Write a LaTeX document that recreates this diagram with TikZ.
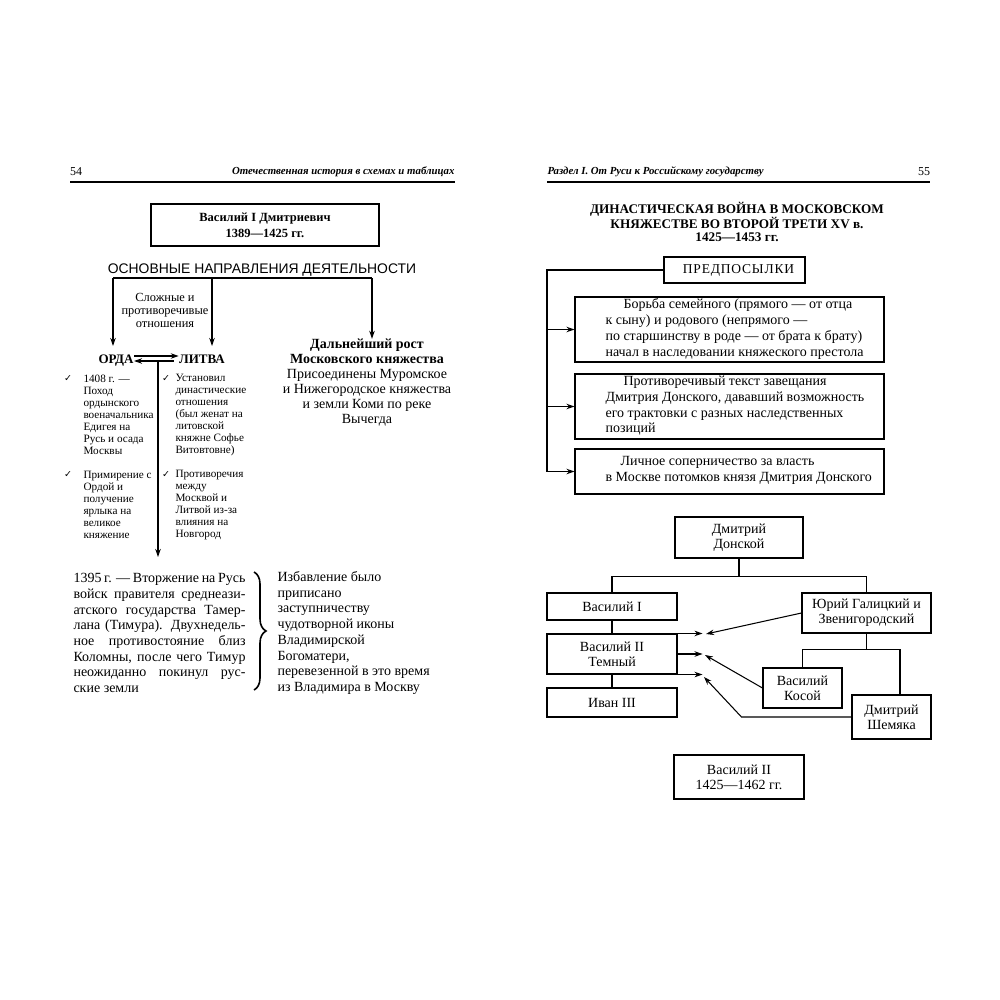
\documentclass[tikz,border=0pt]{standalone}
\usepackage{fontspec}
\setmainfont{Liberation Serif}
\setsansfont{Liberation Sans}
\newfontfamily\symfont{DejaVu Sans}
\usetikzlibrary{arrows.meta,decorations.pathreplacing}

\begin{document}
\begin{tikzpicture}[x=1pt,y=-1pt,line width=1.05pt,
    arr/.style={-{Stealth[length=8pt,width=5.5pt]}},
    box/.style={draw,inner sep=0pt,align=center},
    lbl/.style={inner sep=0pt,align=left,anchor=west},
    fhead/.style={font=\fontsize{10.8}{13}\selectfont\bfseries\itshape},
    fsmall/.style={font=\fontsize{11.2}{12}\selectfont},
    fmid/.style={font=\fontsize{12.4}{13}\selectfont},
    fbig/.style={font=\fontsize{14}{15.7}\selectfont},
    ftree/.style={font=\fontsize{14}{15}\selectfont},
    fchk/.style={inner sep=0pt,font=\symfont\fontsize{9.5}{10}\selectfont},
    side/.style={inner sep=0pt,text height=9pt,text depth=2pt,minimum height=27,font=\fontsize{13}{15}\selectfont\bfseries}]
  \fill[white] (0,0) rectangle (1000,1000);

  % page 54
  \node[inner sep=0pt,font=\fontsize{12}{13}\selectfont] (pl) at (76,172) {54};
  \node[inner sep=0pt,fhead,anchor=east] (hl) at (455,172) {Отечественная история в схемах и таблицах};
  \draw (70,182) -- (455,182);

  \node[box,minimum width=228,minimum height=42,font=\fontsize{12.5}{16}\selectfont\bfseries] (vas) at (265,225)
    {Василий I Дмитриевич\\1389—1425 гг.};
  \node[inner sep=0pt,font=\sffamily\fontsize{13.9}{15}\selectfont] (osn) at (262,270) {ОСНОВНЫЕ НАПРАВЛЕНИЯ ДЕЯТЕЛЬНОСТИ};

  \coordinate (hl1) at (113,278);
  \coordinate (hl2) at (212,278);
  \coordinate (hl3) at (372,278);
  \draw (hl1) -- (hl3);
  \node[inner sep=0pt,fmid,align=center] (slo) at (165,310) {Сложные и\\противоречивые\\отношения};

  \node[side] (orda) at (116,360) {ОРДА};
  \node[side] (litva) at (202,360) {ЛИТВА};
  \draw[arr] (hl1) -- (hl1 |- orda.north);
  \draw[arr] (hl2) -- (hl2 |- litva.north);
  \draw[arr] ([yshift=4pt]orda.east) -- ([yshift=4pt]litva.west);
  \draw[arr] ([yshift=-1pt,xshift=-5pt]litva.west) -- ([yshift=-1pt]orda.east);
  \coordinate (dn) at (158,361);
  \coordinate (dt) at (158,557);
  \draw[arr] (dn) -- (dt);

  \node[fchk] (ck1) at (68,379) {✓};
  \node[lbl,fsmall] (or1) at (83,415) {1408 г. —\\Поход\\ордынского\\военачальника\\Едигея на\\Русь и осада\\Москвы};
  \node[fchk] (ck2) at (68,475) {✓};
  \node[lbl,fsmall] (or2) at (83,505) {Примирение с\\Ордой и\\получение\\ярлыка на\\великое\\княжение};
  \node[fchk] (ck3) at (166,379) {✓};
  \node[lbl,fsmall] (li1) at (175,415) {Установил\\династические\\отношения\\(был женат на\\литовской\\княжне Софье\\Витовтовне)};
  \node[fchk] (ck4) at (166,475) {✓};
  \node[lbl,fsmall] (li2) at (175,505) {Противоречия\\между\\Москвой и\\Литвой из-за\\влияния на\\Новгород};

  \node[inner sep=0pt,align=center,font=\fontsize{14}{15}\selectfont] (rost) at (367,383)
    {\textbf{Дальнейший рост}\\\textbf{Московского княжества}\\Присоединены Муромское\\и Нижегородское княжества\\и земли Коми по реке\\Вычегда};
  \draw[arr] (hl3) -- (hl3 |- rost.north);

  \node[lbl,fbig] (inv) at (73,633)
    {\makebox[172pt][s]{1395 г. — Вторжение на Русь}\\
     \makebox[172pt][s]{войск правителя среднеази-}\\
     \makebox[172pt][s]{атского государства Тамер-}\\
     \makebox[172pt][s]{лана (Тимура). Двухнедель-}\\
     \makebox[172pt][s]{ное противостояние близ}\\
     \makebox[172pt][s]{Коломны, после чего Тимур}\\
     \makebox[172pt][s]{неожиданно покинул рус-}\\
     ские земли};
  \coordinate (bt) at (254,572);
  \coordinate (bb) at (254,690);
  \draw[decorate,decoration={brace,amplitude=12pt},line width=1.6pt] (bt) -- (bb);
  \node[lbl,fbig] (izb) at (277,633)
    {Избавление было\\приписано\\заступничеству\\чудотворной иконы\\Владимирской\\Богоматери,\\перевезенной в это время\\из Владимира в Москву};

  % page 55
  \node[inner sep=0pt,fhead,anchor=west] (hr) at (547,172) {Раздел I. От Руси к Российскому государству};
  \node[inner sep=0pt,font=\fontsize{12}{13}\selectfont] (pr) at (924,172) {55};
  \draw (547,182) -- (930,182);

  \node[inner sep=0pt,align=center,font=\fontsize{13.2}{13.5}\selectfont\bfseries] (tit) at (737,222)
    {ДИНАСТИЧЕСКАЯ ВОЙНА В МОСКОВСКОМ\\КНЯЖЕСТВЕ ВО ВТОРОЙ ТРЕТИ XV в.\\1425—1453 гг.};

  \node[box,minimum width=141,minimum height=26,font=\fontsize{13.5}{15}\selectfont\addfontfeatures{LetterSpace=6}] (pre) at (734.5,270) {\hspace*{8pt}ПРЕДПОСЫЛКИ};
  \node[box,minimum width=309,minimum height=65] (b1) at (729.5,329.5) {};
  \node[box,minimum width=309,minimum height=65] (b2) at (729.5,406.5) {};
  \node[box,minimum width=309,minimum height=45] (b3) at (729.5,471.5) {};
  \node[lbl,fbig] (t1) at (605,329)
    {\hspace*{18pt}Борьба семейного (прямого — от отца\\к сыну) и родового (непрямого —\\по старшинству в роде — от брата к брату)\\начал в наследовании княжеского престола};
  \node[lbl,fbig] (t2) at (605,406)
    {\hspace*{18pt}Противоречивый текст завещания\\Дмитрия Донского, дававший возможность\\его трактовки с разных наследственных\\позиций};
  \node[lbl,fbig] (t3) at (605,470.5)
    {\hspace*{15pt}Личное соперничество за власть\\в Москве потомков князя Дмитрия Донского};
  \coordinate (rail) at (547,270);
  \draw (pre.west) -- (rail) -- (rail |- b3.west);
  \draw[arr] (rail |- b1.west) -- (b1.west);
  \draw[arr] (rail |- b2.west) -- (b2.west);
  \draw[arr] (rail |- b3.west) -- (b3.west);

  \node[box,minimum width=128,minimum height=41,ftree] (dd) at (739,537.5) {Дмитрий\\Донской};
  \node[box,minimum width=130,minimum height=27,ftree] (v1) at (612,606.5) {Василий I};
  \node[box,minimum width=129,minimum height=40,ftree] (yg) at (866.5,613) {Юрий Галицкий и\\Звенигородский};
  \node[box,minimum width=130,minimum height=40,ftree] (v2) at (612,654) {Василий II\\Темный};
  \node[box,minimum width=130,minimum height=29,ftree] (iv) at (612,702.5) {Иван III};
  \node[box,minimum width=79,minimum height=40,ftree] (vk) at (802.5,688) {Василий\\Косой};
  \node[box,minimum width=79,minimum height=44,ftree] (ds) at (891.5,717) {Дмитрий\\Шемяка};
  \node[box,minimum width=130,minimum height=44,ftree] (v2b) at (739,777) {Василий II\\1425—1462 гг.};

  \draw (dd.south) -- ++(0,18) coordinate (ddj);
  \draw (v1.north) |- (ddj) -| (yg.north);
  \draw (v1.south) -- (v2.north);
  \draw (v2.south) -- (iv.north);
  \draw (yg.south) -- ++(0,16) coordinate (ygj);
  \draw (vk.north) |- (ygj) -| ([xshift=8.5pt]ds.north);

  \draw[arr] (v2.north east) -- ++(25,0);
  \draw[arr] (v2.east) -- ++(25,0);
  \draw[arr] (v2.south east) -- ++(25,0);
  \draw[arr] (yg.west) -- (706,634);
  \draw[arr] (vk.west) -- (705,655);
  \draw[arr] (ds.west) -- ++(-110,0) -- (704,677);
\end{tikzpicture}
\end{document}
